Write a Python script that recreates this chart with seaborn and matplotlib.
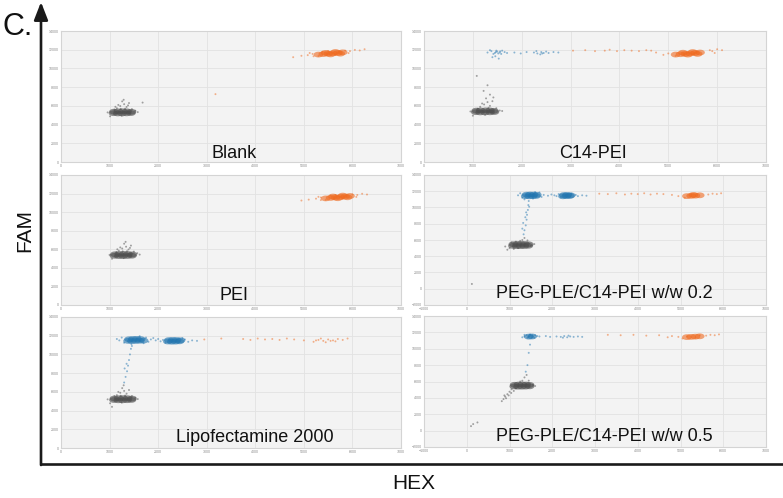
import matplotlib
matplotlib.use("Agg")
import matplotlib.pyplot as plt
from matplotlib.path import Path
import numpy as np
import pandas as pd
import seaborn as sns

# ---------------- data (HEX, FAM) ----------------
PANEL_TITLES = ["Blank", "C14-PEI", "PEI", "PEG-PLE/C14-PEI w/w 0.2",
                "Lipofectamine 2000", "PEG-PLE/C14-PEI w/w 0.5"]

# Blank
BLANK_GRAY_CORE = [(1080, 5220), (1170, 5190), (1260, 5190), (1350, 5200), (1440, 5230),
                   (1090, 5380), (1180, 5410), (1270, 5420), (1360, 5410), (1450, 5370)]
BLANK_GRAY_SPRAY = [(1150, 5750), (1220, 5980), (1300, 6180), (1260, 6480), (1350, 5880),
                    (1400, 6300), (1180, 6100), (1320, 5700), (1100, 5600), (1460, 5650),
                    (1530, 5480), (960, 5300), (1580, 5330), (1250, 4950), (1010, 4880),
                    (1680, 6350), (1290, 6650), (1230, 5680), (1380, 6050), (1120, 5900)]
BLANK_ORANGE_CORE = [(5300, 11480), (5400, 11530), (5500, 11580), (5600, 11620), (5700, 11660),
                     (5800, 11720), (5450, 11660), (5650, 11760), (5550, 11500), (5750, 11580)]
BLANK_ORANGE_SPRAY = [(4780, 11200), (4950, 11350), (5080, 11420), (5180, 11550), (5950, 11850),
                      (6050, 11980), (6150, 11920), (5500, 11850), (5650, 11430), (5300, 11330),
                      (5850, 11900), (5120, 11650), (5920, 11640), (6250, 12050), (5200, 11300),
                      (5380, 11780), (3180, 7250)]

# C14-PEI
C14_GRAY_CORE = [(1060, 5330), (1150, 5300), (1250, 5300), (1350, 5310), (1440, 5340),
                 (1070, 5490), (1160, 5510), (1260, 5520), (1350, 5510), (1430, 5470)]
C14_GRAY_SPRAY = [(1150, 5900), (1230, 6150), (1300, 6400), (1270, 6800), (1350, 6000),
                  (1400, 6500), (1190, 6250), (1320, 5800), (1100, 5700), (1480, 5750),
                  (1550, 5500), (950, 5400), (1600, 5450), (1250, 5050), (1000, 4950),
                  (1350, 7200), (1220, 7600), (1080, 9200), (1300, 8200), (1420, 6900)]
C14_BLUE_SPRAY = [(1300, 11700), (1380, 11850), (1450, 11650), (1500, 11800), (1550, 11700),
                  (1600, 11900), (1420, 11550), (1520, 11600), (1650, 11750), (1350, 11950),
                  (1480, 11900), (1580, 11550), (1700, 11650), (1460, 11300), (1400, 11200),
                  (1530, 11050), (1850, 11700), (1980, 11600), (2100, 11750), (2250, 11700),
                  (2320, 11600), (2400, 11750), (2450, 11650), (2380, 11500), (2500, 11800),
                  (2550, 11650), (2300, 11850), (2650, 11750), (2750, 11700), (1470, 11750),
                  (1560, 11820), (2420, 11600)]
C14_ORANGE_CORE = [(5150, 11480), (5250, 11520), (5350, 11560), (5450, 11600), (5550, 11650),
                   (5650, 11700), (5300, 11680), (5500, 11750), (5400, 11480), (5600, 11550)]
C14_ORANGE_SPRAY = [(3050, 11900), (3300, 11950), (3500, 11850), (3700, 11900), (3800, 12000),
                    (3950, 11850), (4100, 11950), (4250, 11900), (4400, 11850), (4550, 11950),
                    (4650, 11900), (4750, 11700), (4900, 11450), (5000, 11600), (5900, 11850),
                    (6000, 12050), (6100, 11950), (5950, 11650), (5150, 11350), (5850, 11950)]

# PEI
PEI_GRAY_CORE = [(1100, 5300), (1190, 5270), (1280, 5270), (1370, 5280), (1460, 5310),
                 (1110, 5460), (1200, 5490), (1290, 5500), (1380, 5490), (1470, 5450)]
PEI_GRAY_SPRAY = [(1190, 5850), (1260, 6080), (1340, 6280), (1300, 6600), (1390, 5980),
                  (1440, 6400), (1220, 6200), (1360, 5800), (1140, 5700), (1500, 5750),
                  (1570, 5580), (1000, 5400), (1620, 5430), (1290, 5050), (1050, 4980),
                  (1330, 6800), (1270, 5780), (1420, 6150), (1160, 6000)]
PEI_ORANGE_CORE = [(5450, 11480), (5550, 11530), (5650, 11580), (5750, 11630), (5850, 11680),
                   (5950, 11740), (5600, 11680), (5800, 11780), (5700, 11500), (5900, 11600)]
PEI_ORANGE_SPRAY = [(4950, 11250), (5100, 11350), (5250, 11450), (5350, 11580), (6100, 11850),
                    (6200, 11980), (6300, 11900), (5650, 11850), (5800, 11430), (5450, 11330),
                    (6000, 11900), (5300, 11650), (6080, 11640), (5350, 11300), (5550, 11780)]

# PEG-PLE/C14-PEI w/w 0.2
PEG02_GRAY_CORE = [(1080, 5280), (1170, 5250), (1260, 5250), (1350, 5260), (1440, 5290),
                   (1090, 5480), (1180, 5510), (1270, 5520), (1360, 5510), (1450, 5470)]
PEG02_GRAY_SPRAY = [(1000, 5000), (950, 4800), (1100, 4900), (1200, 5000), (1500, 5300),
                    (1580, 5500), (1300, 6000), (1350, 6250), (1250, 5900), (1420, 5950),
                    (1150, 5800), (1050, 5700), (900, 5200), (120, 590)]
PEG02_BLUE_CORE = [(1380, 11400), (1460, 11380), (1540, 11400), (1620, 11420),
                   (1400, 11580), (1480, 11600), (1560, 11590), (1640, 11560),
                   (2250, 11380), (2330, 11400), (2410, 11420),
                   (2270, 11530), (2350, 11550), (2430, 11500)]
PEG02_BLUE_SPRAY = [(1330, 6700), (1350, 7200), (1380, 7800), (1400, 8500), (1410, 9100),
                    (1430, 9700), (1440, 10300), (1450, 10800), (1320, 8100), (1390, 9400),
                    (1300, 7400), (1460, 10100), (1370, 8800),
                    (1200, 11500), (1250, 11750), (1300, 11200), (1700, 11850), (1750, 11300),
                    (1800, 11550), (1900, 11450), (1980, 11600), (2050, 11500), (2100, 11400),
                    (2150, 11650), (2550, 11550), (2600, 11400), (2700, 11500), (2800, 11450),
                    (1600, 11900), (1350, 11000), (1550, 11100), (2450, 11700), (2200, 11250)]
PEG02_ORANGE_CORE = [(5150, 11400), (5250, 11430), (5350, 11460), (5450, 11500), (5300, 11550)]
PEG02_ORANGE_SPRAY = [(3100, 11700), (3300, 11650), (3500, 11750), (3700, 11600), (3850, 11700),
                      (4000, 11650), (4150, 11750), (4300, 11600), (4450, 11700), (4600, 11650),
                      (4800, 11550), (4950, 11400), (5650, 11600), (5750, 11700), (5850, 11650),
                      (5950, 11750), (5100, 11200), (5250, 11650)]

# Lipofectamine 2000
LIPO_GRAY_CORE = [(1090, 5130), (1180, 5100), (1270, 5100), (1360, 5110), (1450, 5140),
                  (1100, 5290), (1190, 5320), (1280, 5330), (1370, 5320), (1460, 5280)]
LIPO_GRAY_SPRAY = [(1150, 5650), (1220, 5900), (1300, 6100), (1260, 6400), (1350, 5800),
                   (1400, 6200), (1180, 6000), (1320, 5600), (1100, 5550), (1460, 5550),
                   (1530, 5380), (960, 5200), (1580, 5230), (1250, 4850), (1010, 4780),
                   (1290, 6700), (1230, 5580), (1050, 4400)]
LIPO_BLUE_CORE = [(1380, 11450), (1460, 11430), (1540, 11440), (1620, 11460), (1700, 11480),
                  (1400, 11620), (1480, 11650), (1560, 11660), (1640, 11640),
                  (2200, 11380), (2280, 11360), (2360, 11370), (2440, 11400),
                  (2220, 11530), (2300, 11550), (2380, 11540), (2460, 11510)]
LIPO_BLUE_SPRAY = [(1300, 7000), (1330, 7600), (1360, 8200), (1380, 8800), (1400, 9400),
                   (1420, 10000), (1440, 10600), (1350, 9000), (1310, 8500), (1460, 10900),
                   (1200, 11500), (1250, 11800), (1300, 11250), (1750, 11800), (1800, 11350),
                   (1850, 11600), (1950, 11500), (2000, 11650), (2050, 11400), (2100, 11550),
                   (2550, 11600), (2620, 11350), (2700, 11500), (2800, 11450), (1620, 11950),
                   (1450, 11100), (1900, 11750), (2500, 11750), (2150, 11250), (1150, 11650),
                   (1700, 11200)]
LIPO_ORANGE_SPRAY = [(3750, 11650), (3900, 11550), (4050, 11700), (4200, 11600), (4350, 11650),
                     (4500, 11550), (4650, 11700), (4800, 11600), (5000, 11500), (5200, 11350),
                     (5300, 11550), (5400, 11450), (5500, 11600), (5600, 11500), (5700, 11650),
                     (5800, 11550), (5900, 11700), (5450, 11300), (5350, 11700), (5650, 11400),
                     (3300, 11700), (2950, 11600), (5550, 11450), (5250, 11500)]

# PEG-PLE/C14-PEI w/w 0.5
PEG05_GRAY_CORE = [(1110, 5400), (1200, 5370), (1290, 5370), (1380, 5380), (1470, 5410),
                   (1120, 5600), (1210, 5630), (1300, 5640), (1390, 5630), (1470, 5590)]
PEG05_GRAY_SPRAY = [(1050, 5050), (1000, 4750), (950, 4450), (900, 4150), (860, 3850),
                    (820, 3600), (1100, 4850), (980, 4300), (920, 3950), (1040, 4600),
                    (880, 4300), (1300, 6100), (1350, 6500), (1400, 6800), (1250, 6000),
                    (1550, 5600), (1600, 5450), (1450, 6100), (150, 800), (250, 1000),
                    (100, 550), (1150, 5150)]
PEG05_BLUE_CORE = [(1450, 11480), (1530, 11500)]
PEG05_BLUE_SPRAY = [(1420, 8000), (1450, 9500), (1480, 10500), (1380, 7200),
                    (1350, 11500), (1400, 11650), (1450, 11450), (1500, 11600), (1550, 11500),
                    (1600, 11650), (1420, 11350), (1520, 11400), (1650, 11550), (1350, 11700),
                    (1480, 11750), (1580, 11350), (1700, 11500), (1300, 11400), (1460, 11550),
                    (1540, 11650), (2100, 11500), (2200, 11450), (2280, 11550), (2350, 11400),
                    (2420, 11500), (2500, 11450), (2250, 11350), (2380, 11600), (2600, 11500),
                    (2700, 11450), (1850, 11550), (1950, 11450)]
PEG05_ORANGE_CORE = [(5150, 11420), (5250, 11450), (5350, 11480), (5450, 11520)]
PEG05_ORANGE_SPRAY = [(3300, 11700), (3600, 11650), (3900, 11700), (4200, 11600), (4500, 11650),
                      (4800, 11550), (4950, 11450), (5050, 11250), (5600, 11600), (5700, 11700),
                      (5800, 11650), (5900, 11750), (5150, 11500), (5450, 11650), (5350, 11300),
                      (4700, 11400)]

X_MIN = [0, 0, 0, -1000, 0, -1000]
Y_MIN = [0, 0, 0, -2000, 0, -2000]

# ---------------- build tables ----------------
def frame(points, kind, part):
    df = pd.DataFrame(points, columns=["HEX", "FAM"])
    df["kind"] = kind
    df["part"] = part
    return df

PANEL_DATA = [
    [frame(BLANK_GRAY_CORE, "neg", "core"), frame(BLANK_GRAY_SPRAY, "neg", "spray"),
     frame(BLANK_ORANGE_CORE, "hex", "core"), frame(BLANK_ORANGE_SPRAY, "hex", "spray")],
    [frame(C14_GRAY_CORE, "neg", "core"), frame(C14_GRAY_SPRAY, "neg", "spray"),
     frame(C14_BLUE_SPRAY, "fam", "spray"),
     frame(C14_ORANGE_CORE, "hex", "core"), frame(C14_ORANGE_SPRAY, "hex", "spray")],
    [frame(PEI_GRAY_CORE, "neg", "core"), frame(PEI_GRAY_SPRAY, "neg", "spray"),
     frame(PEI_ORANGE_CORE, "hex", "core"), frame(PEI_ORANGE_SPRAY, "hex", "spray")],
    [frame(PEG02_GRAY_CORE, "neg", "core"), frame(PEG02_GRAY_SPRAY, "neg", "spray"),
     frame(PEG02_BLUE_CORE, "fam", "core"), frame(PEG02_BLUE_SPRAY, "fam", "spray"),
     frame(PEG02_ORANGE_CORE, "hex", "core"), frame(PEG02_ORANGE_SPRAY, "hex", "spray")],
    [frame(LIPO_GRAY_CORE, "neg", "core"), frame(LIPO_GRAY_SPRAY, "neg", "spray"),
     frame(LIPO_BLUE_CORE, "fam", "core"), frame(LIPO_BLUE_SPRAY, "fam", "spray"),
     frame(LIPO_ORANGE_SPRAY, "hex", "spray")],
    [frame(PEG05_GRAY_CORE, "neg", "core"), frame(PEG05_GRAY_SPRAY, "neg", "spray"),
     frame(PEG05_BLUE_CORE, "fam", "core"), frame(PEG05_BLUE_SPRAY, "fam", "spray"),
     frame(PEG05_ORANGE_CORE, "hex", "core"), frame(PEG05_ORANGE_SPRAY, "hex", "spray")],
]

# ---------------- style / layout ----------------
sns.set_theme(style="white")
plt.rcParams["font.family"] = ["Liberation Sans", "DejaVu Sans"]

PALETTE = {"neg": "#4d4d4d", "fam": "#2376b0", "hex": "#ef6a1f"}
_t = np.linspace(0, 2 * np.pi, 48)
FLAT_DOT = Path(np.column_stack([np.cos(_t), 0.6 * np.sin(_t)]), closed=True)

W, H = 783, 498
# pixel boxes: left, top, right, bottom
BOXES = [(61, 31, 401, 162), (424, 31, 766, 162),
         (61, 175, 401, 305), (424, 175, 766, 305),
         (61, 317, 401, 448), (424, 316, 766, 447)]
TITLE_POS = [(0.51, 0.03), (0.494, 0.03), (0.51, 0.035),
             (0.526, 0.054), (0.57, 0.046), (0.526, 0.046)]

fig = plt.figure(figsize=(W / 100, H / 100), dpi=100)

for i, (l, t, r, b) in enumerate(BOXES):
    ax = fig.add_axes([l / W, 1 - b / H, (r - l) / W, (b - t) / H])
    ax.set_facecolor("#f3f3f3")
    df = pd.concat(PANEL_DATA[i], ignore_index=True)
    spray = df[df["part"] == "spray"]
    core = df[df["part"] == "core"]
    sns.scatterplot(data=spray, x="HEX", y="FAM", hue="kind", palette=PALETTE,
                    s=2.0, linewidth=0, alpha=0.5, legend=False, ax=ax, zorder=3)
    if len(core):
        sns.scatterplot(data=core, x="HEX", y="FAM", hue="kind", palette=PALETTE,
                        marker=FLAT_DOT, s=48, linewidth=0, alpha=0.6, legend=False,
                        ax=ax, zorder=4)
    ax.set_xlim(X_MIN[i], 7000)
    ax.set_ylim(Y_MIN[i], 14000)
    ax.set_xticks(range(X_MIN[i], 7001, 1000))
    ax.set_yticks(range(Y_MIN[i], 14001, 2000))
    ax.grid(True, color="#e2e2e2", linewidth=0.6)
    ax.set_axisbelow(True)
    ax.tick_params(length=0, labelsize=2.6, labelcolor="#8a8a8a", pad=1.5)
    ax.set_xlabel("")
    ax.set_ylabel("")
    for sp in ax.spines.values():
        sp.set_color("#d4d4d4")
        sp.set_linewidth(0.8)
    tx, ty = TITLE_POS[i]
    ax.text(tx, ty, PANEL_TITLES[i], transform=ax.transAxes, ha="center",
            va="baseline", fontsize=13, color="#111111", zorder=6)

# outer arrow axes and labels
deco = fig.add_axes([0, 0, 1, 1], facecolor="none")
deco.set_xlim(0, W)
deco.set_ylim(H, 0)
deco.axis("off")
deco.plot([41, W], [464, 464], color="#1a1a1a", linewidth=1.9, solid_capstyle="butt")
deco.annotate("", xy=(41, 2), xytext=(41, 465),
              arrowprops=dict(arrowstyle="-|>,head_length=0.9,head_width=0.35",
                              color="#1a1a1a", lw=1.9, shrinkA=0, shrinkB=0))
fig.text(2 / W, 1 - 35 / H, "C.", fontsize=22, ha="left", va="baseline", color="#111111")
fig.text(25 / W, 1 - 231 / H, "FAM", fontsize=15, rotation=90, ha="center", va="center",
         color="#111111")
fig.text(414 / W, 1 - 483 / H, "HEX", fontsize=15, ha="center", va="center", color="#111111")

fig.savefig("out.png", dpi=100)
